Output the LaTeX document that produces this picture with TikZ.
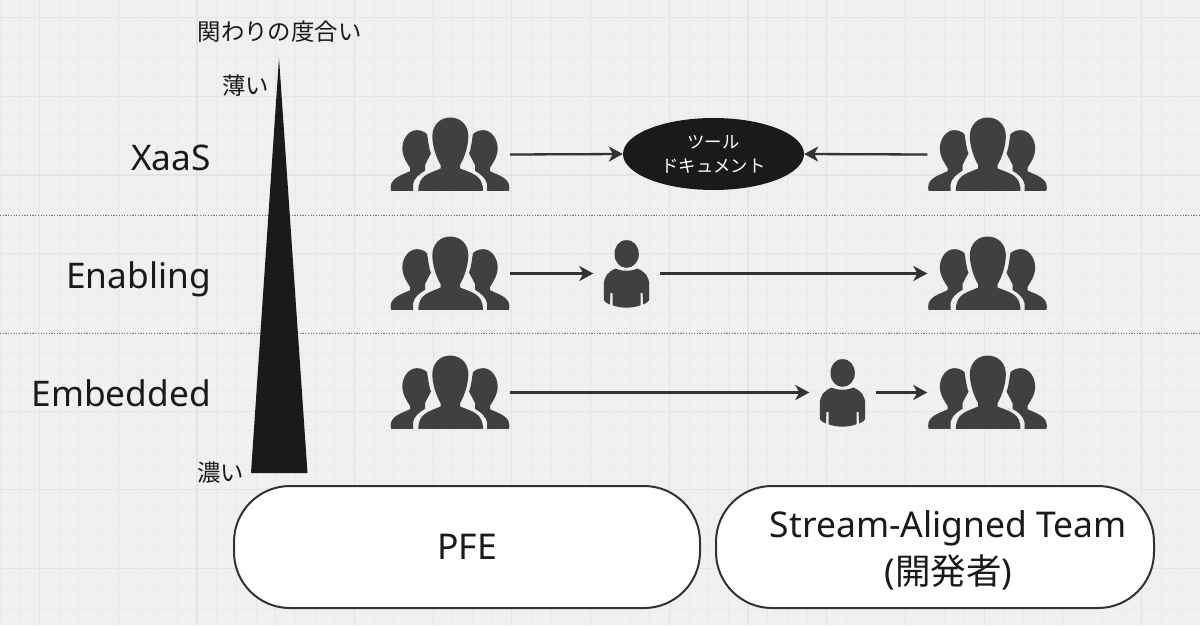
\documentclass[tikz,border=0pt]{standalone}
\usepackage{fontspec}
\setmainfont{Noto Sans}
\newfontfamily\jp{Noto Sans CJK JP}
\usetikzlibrary{arrows.meta,shapes.geometric}
\definecolor{bg}{HTML}{F0F0F0}
\definecolor{minorg}{HTML}{EAEAEA}
\definecolor{majorg}{HTML}{E4E4E4}
\definecolor{ink}{HTML}{1A1A1A}
\definecolor{icon}{HTML}{404040}
\definecolor{line}{HTML}{333333}
\newcommand{\sidefig}{(32,272) -- (97,272) -- (97,252) .. controls (100,235) and (115,222) .. (133,212) -- (133,195)
  .. controls (140,180) and (146,170) .. (151,160) .. controls (144,145) and (142,115) .. (139,102)
  .. controls (130,93) and (118,90) .. (108,90) .. controls (85,90) and (65,115) .. (65,145)
  .. controls (65,170) and (80,190) .. (88,203) -- (88,213) .. controls (65,225) and (30,232) .. (30,262) .. controls (30,268) and (31,272) .. (32,272) -- cycle}
\tikzset{
  x=1pt,y=-1pt,
  crowdbox/.style={inner sep=0,minimum width=120,minimum height=75},
  personbox/.style={inner sep=0,minimum width=66,minimum height=68},
  link/.style={draw=line,line width=2.3pt,-{Stealth[length=14pt,width=15pt,inset=4pt]}},
  lane/.style={draw=black!55,line width=1pt,dash pattern=on 1.2pt off 1.5pt},
  pill/.style={draw=line,line width=2pt,fill=white,rounded corners=56pt,inner sep=0,align=center,text=ink},
  rowlabel/.style={anchor=base east,inner sep=0,text=ink,font=\fontsize{35.3}{40}\selectfont},
  jplabel/.style={inner sep=0,text=ink,font=\jp\fontsize{23.4}{28}\selectfont},
  crowd/.pic={
    \begin{scope}[x=.33333pt,y=-.33333pt,shift={(-208,-163)}]
      \fill[icon] (180,195) .. controls (165,170) and (155,135) .. (155,108)
        .. controls (155,75) and (178,52) .. (208,52) .. controls (240,52) and (263,75) .. (263,108)
        .. controls (263,135) and (253,170) .. (238,195) -- (238,205)
        .. controls (275,220) and (307,225) .. (307,272) -- (113,272)
        .. controls (113,225) and (145,220) .. (180,205) -- cycle;
      \fill[icon] \sidefig;
      \begin{scope}[shift={(416,0)},xscale=-1]
        \fill[icon] \sidefig;
      \end{scope}
    \end{scope}
  },
  person/.pic={
    \begin{scope}[x=.33333pt,y=-.33333pt,shift={(-738,-520)}]
      \fill[icon] (738,420) .. controls (760,420) and (775,438) .. (775,462) .. controls (775,486) and (758,503) .. (738,503)
        .. controls (718,503) and (702,486) .. (702,462) .. controls (702,438) and (716,420) .. (738,420) -- cycle;
      \fill[icon] (706,505) .. controls (722,514) and (754,514) .. (770,505)
        .. controls (795,515) and (806,530) .. (806,555) -- (806,600) .. controls (802,606) and (796,610) .. (788,613)
        -- (786,578) -- (780,578) -- (780,615) .. controls (755,625) and (720,625) .. (696,615)
        -- (696,578) -- (690,578) -- (688,613) .. controls (680,610) and (674,606) .. (670,600)
        -- (670,555) .. controls (670,530) and (681,515) .. (706,505) -- cycle;
    \end{scope}
  }
}
\begin{document}
\begin{tikzpicture}
\useasboundingbox (0,0) rectangle (1200,625);
\fill[bg] (0,0) rectangle (1200,625);
% grid
\foreach \i in {-2,...,61} {
  \draw[minorg,line width=.8pt] ({39.5+19.68*\i},0) -- ({39.5+19.68*\i},625);
  \draw[minorg,line width=.8pt] (0,{17.5+19.68*\i}) -- (1200,{17.5+19.68*\i});
}
\foreach \i in {0,...,15} {
  \draw[majorg,line width=1.2pt] ({39.5+78.72*\i},0) -- ({39.5+78.72*\i},625);
  \draw[majorg,line width=1.2pt] (0,{17.5+78.72*\i}) -- (1200,{17.5+78.72*\i});
}
% lanes
\coordinate (laneAl) at (0,215); \coordinate (laneAr) at (1200,215);
\coordinate (laneBl) at (0,333); \coordinate (laneBr) at (1200,333);
\draw[lane] (laneAl) -- (laneAr);
\draw[lane] (laneBl) -- (laneBr);
% wedge
\coordinate (apex) at (279,58); \coordinate (bl) at (251,473); \coordinate (br) at (307.5,473);
\fill[ink] (apex) -- (br) -- (bl) -- cycle;
% labels
\node[jplabel] (title) at (279.5,32) {関わりの度合い};
\node[jplabel] (thin) at (245.5,86) {薄い};
\node[jplabel] (thick) at (220.5,473) {濃い};
\node[rowlabel] (xaas) at (211,170) {XaaS};
\node[rowlabel] (enabling) at (211,288) {Enabling};
\node[rowlabel] (embedded) at (211,406) {Embedded};
% icon slots
\node[crowdbox] (a1) at (450,154.5) {}; \pic at (a1) {crowd};
\node[crowdbox] (a2) at (450,273.5) {}; \pic at (a2) {crowd};
\node[crowdbox] (a3) at (450,392.5) {}; \pic at (a3) {crowd};
\node[crowdbox] (b1) at (987.5,154.5) {}; \pic at (b1) {crowd};
\node[crowdbox] (b2) at (987.5,273.5) {}; \pic at (b2) {crowd};
\node[crowdbox] (b3) at (987.5,392.5) {}; \pic at (b3) {crowd};
\node[personbox] (p2) at (626.5,273.5) {}; \pic at (p2) {person};
\node[personbox] (p3) at (842.5,392.5) {}; \pic at (p3) {person};
% tools
\node[ellipse,fill=ink,inner sep=0,minimum width=181,minimum height=72,text=white,align=center,font=\jp\fontsize{17.4}{24}\selectfont] (tools) at (713.5,154) {ツール\\ドキュメント};
% connectors
\draw[link] (a1.east) -- (tools.west);
\draw[link] (b1.west) -- (tools.east);
\draw[link] (a2.east) -- (p2.west);
\draw[link] (p2.east) -- (b2.west);
\draw[link] (a3.east) -- (p3.west);
\draw[link] (p3.east) -- (b3.west);
% team boxes
\node[pill,minimum width=466,minimum height=122,font=\fontsize{35.5}{47}\selectfont] (pfe) at (467,547) {PFE};
\node[pill,minimum width=438,minimum height=122,font=\fontsize{35.5}{47}\selectfont] (sat) at (935,547) {};
\node[text=ink,align=center,inner sep=0,font=\fontsize{35.5}{47}\selectfont] (sattext) at (948.5,550) {Stream-Aligned Team\\({\jp 開発者})};
\end{tikzpicture}
\end{document}
